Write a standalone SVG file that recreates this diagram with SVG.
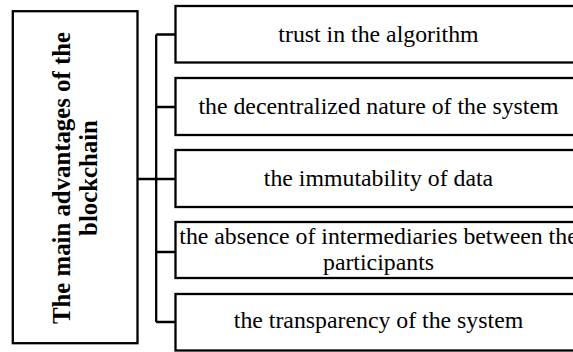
<svg xmlns="http://www.w3.org/2000/svg" width="573" height="352" viewBox="0 0 573 352">
<style>
.box{fill:#fff;stroke:#000;stroke-width:2.3}
.lbl{font-family:"Liberation Serif","Times New Roman",serif;font-size:23.8px;fill:#000;text-anchor:middle}
.title{font-family:"Liberation Serif","Times New Roman",serif;font-size:24.8px;font-weight:bold;fill:#000;text-anchor:middle}
.conn{fill:none;stroke:#000;stroke-width:2.3}
</style>
<rect width="573" height="352" fill="#fff"/>
<g id="connectors">
<path class="conn" d="M137.5 179H175.5M156.2 34.5V322M156.2 34.5H175.5M156.2 107H175.5M156.2 252H175.5M156.2 322H175.5"/>
</g>
<g id="main">
<rect class="box" x="12.8" y="11.2" width="124.7" height="332"/>
<g transform="translate(0,178) rotate(-90)">
<text class="title" x="0" y="70">The main advantages of the</text>
<text class="title" x="0" y="97">blockchain</text>
</g>
</g>
<g id="n1">
<rect class="box" x="175.5" y="6" width="406" height="56.5"/>
<text class="lbl" x="378.5" y="42">trust in the algorithm</text>
</g>
<g id="n2">
<rect class="box" x="175.5" y="78" width="406" height="57"/>
<text class="lbl" x="378.5" y="114">the decentralized nature of the system</text>
</g>
<g id="n3">
<rect class="box" x="175.5" y="150" width="406" height="57"/>
<text class="lbl" x="378.5" y="186">the immutability of data</text>
</g>
<g id="n4">
<rect class="box" x="175.5" y="222" width="406" height="56"/>
<text class="lbl" x="378.5" y="244">the absence of intermediaries between the</text>
<text class="lbl" x="378.5" y="270">participants</text>
</g>
<g id="n5">
<rect class="box" x="175.5" y="294" width="406" height="56.5"/>
<text class="lbl" x="378.5" y="328">the transparency of the system</text>
</g>
</svg>
